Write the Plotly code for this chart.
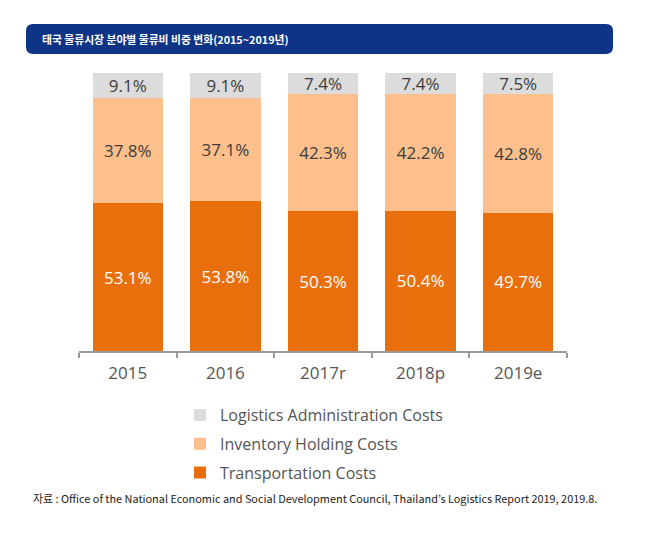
import plotly.graph_objects as go

categories = ["2015", "2016", "2017r", "2018p", "2019e"]
transport = [53.1, 53.8, 50.3, 50.4, 49.7]
inventory = [37.8, 37.1, 42.3, 42.2, 42.8]
admin = [9.1, 9.1, 7.4, 7.4, 7.5]

title_text = "태국 물류시장 분야별 물류비 비중 변화(2015~2019년)"
source_text = "자료 : Office of the National Economic and Social Development Council, Thailand’s Logistics Report 2019, 2019.8."

OFF = 8  # page body margin
W, H = 652 - OFF, 545 - OFF
ML, MR, MT, MB = 79 - OFF, 85, 73 - OFF, 194
PW = W - ML - MR
PH = H - MT - MB

def px_x(p):
    return (p - OFF - ML) / PW

def px_y(p):
    return (H - MB - (p - OFF)) / PH

FONT = "Open Sans, Noto Sans CJK KR, sans-serif"

fig = go.Figure()
series = [
    ("Transportation Costs", transport, "#E96F0C", "#FFFFFF", "g3", 3),
    ("Inventory Holding Costs", inventory, "#FDC08C", "#3C3C3C", "g2", 2),
    ("Logistics Administration Costs", admin, "#DCDCDC", "#3C3C3C", "g1", 1),
]
for name, vals, col, tcol, grp, rank in series:
    fig.add_trace(go.Bar(
        x=categories, y=vals, name=name, marker_color=col, marker_line_width=0,
        width=0.72, texttemplate="%{y:.1f}%", textposition="inside",
        insidetextanchor="middle", textangle=0,
        textfont=dict(family=FONT, size=17, color=tcol),
        legendgroup=grp, legendrank=rank, hoverinfo="skip",
    ))

# rounded banner in pixel coordinates relative to plot origin
x0, x1 = 26 - 79, 613 - 79
yt, yb = 351 - 24, 351 - 54
r = 7
path = (f"M {x0+r},{yb} L {x1-r},{yb} Q {x1},{yb} {x1},{yb+r} L {x1},{yt-r} "
        f"Q {x1},{yt} {x1-r},{yt} L {x0+r},{yt} Q {x0},{yt} {x0},{yt-r} "
        f"L {x0},{yb+r} Q {x0},{yb} {x0+r},{yb} Z")
fig.add_shape(type="path", path=path, xref="paper", yref="paper",
              xsizemode="pixel", ysizemode="pixel", xanchor=0, yanchor=0,
              fillcolor="#0E3585", line_width=0, layer="below")

fig.add_annotation(text=f"<b>{title_text}</b>", xref="paper", yref="paper",
                   x=px_x(40), y=px_y(39), xanchor="left", yanchor="middle",
                   showarrow=False,
                   font=dict(family="Noto Sans CJK KR, sans-serif", size=10.8, color="#FFFFFF"))
fig.add_annotation(text=source_text, xref="paper", yref="paper",
                   x=px_x(31), y=px_y(498), xanchor="left", yanchor="middle",
                   showarrow=False,
                   font=dict(family="Noto Sans CJK KR, sans-serif", size=10.9, color="#222222"))

fig.update_layout(
    width=W, height=H, barmode="stack",
    margin=dict(l=ML, r=MR, t=MT, b=MB, autoexpand=False),
    paper_bgcolor="#FFFFFF", plot_bgcolor="#FFFFFF",
    uniformtext=dict(minsize=17, mode="show"),
    showlegend=True,
    legend=dict(x=px_x(180), y=px_y(398), xanchor="left", yanchor="top",
                orientation="v", traceorder="grouped", tracegroupgap=5,
                font=dict(family=FONT, size=16, color="#555555"),
                bgcolor="rgba(0,0,0,0)"),
    xaxis=dict(type="category", showline=True, linecolor="#9A9A9A", linewidth=1.5,
               ticks="outside", tickson="boundaries", ticklen=5, tickcolor="#9A9A9A",
               tickwidth=1.5, showgrid=False, ticklabelstandoff=6,
               tickfont=dict(family=FONT, size=17, color="#555555")),
    yaxis=dict(range=[0, 100], visible=False, showgrid=False, fixedrange=True),
)

fig.write_html("out.html")
